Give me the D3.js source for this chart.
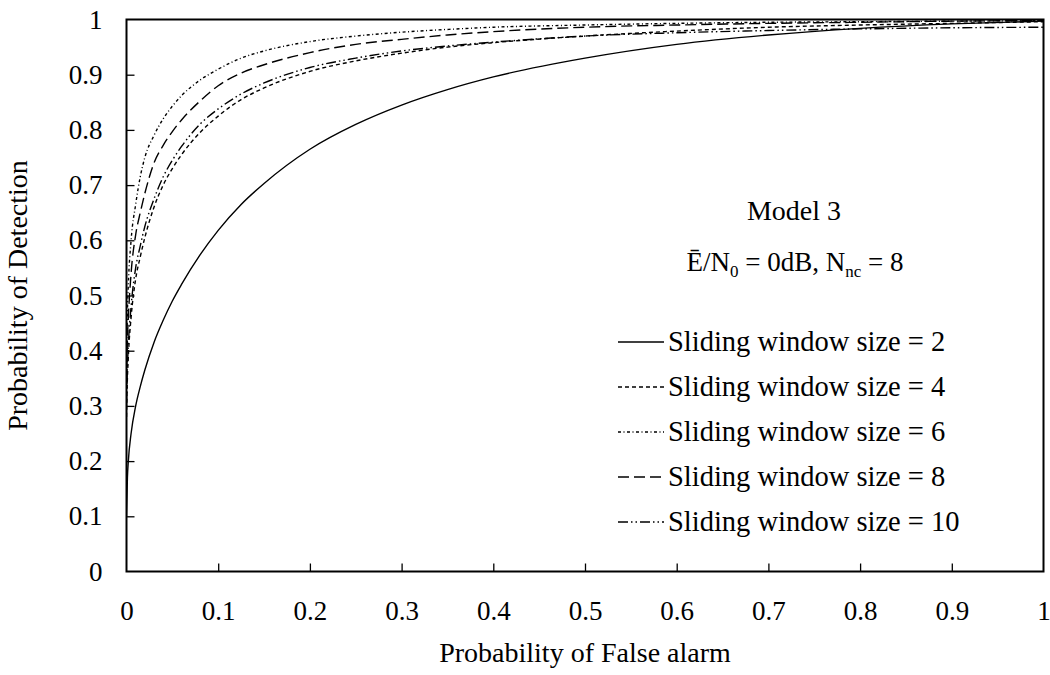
<!DOCTYPE html>
<html>
<head>
<meta charset="utf-8">
<script src="https://cdn.jsdelivr.net/npm/d3@7"></script>
<style>
  html, body { margin: 0; padding: 0; background: #fff; }
  svg text { font-family: "Liberation Serif", "Times New Roman", serif; fill: #000; }
</style>
</head>
<body>
<svg id="chart" width="1050" height="675"></svg>
<script>
// Probability of false alarm sample points (shared by all curves)
const pfa = [0, 0.001, 0.002, 0.005, 0.01, 0.015, 0.02, 0.03, 0.04, 0.05, 0.06, 0.08,
             0.1, 0.125, 0.15, 0.2, 0.25, 0.3, 0.35, 0.4, 0.5, 0.6, 0.7, 0.8, 0.9, 1.0];

// Probability of detection for each sliding window size
const pdWin2  = [0.10, 0.17, 0.20, 0.25, 0.30, 0.335, 0.365, 0.415, 0.455, 0.49, 0.52, 0.573,
                 0.618, 0.665, 0.703, 0.765, 0.810, 0.845, 0.873, 0.896, 0.930, 0.955, 0.972, 0.984, 0.992, 0.997];
const pdWin4  = [0.28, 0.35, 0.39, 0.46, 0.53, 0.57, 0.605, 0.66, 0.70, 0.73, 0.755, 0.795,
                 0.825, 0.855, 0.876, 0.906, 0.925, 0.939, 0.950, 0.958, 0.970, 0.979, 0.986, 0.990, 0.993, 0.996];
const pdWin6  = [0.38, 0.47, 0.52, 0.60, 0.665, 0.715, 0.75, 0.79, 0.82, 0.843, 0.862, 0.89,
                 0.91, 0.93, 0.943, 0.960, 0.970, 0.977, 0.982, 0.986, 0.990, 0.993, 0.995, 0.996, 0.997, 0.998];
const pdWin8  = [0.34, 0.42, 0.46, 0.54, 0.61, 0.65, 0.685, 0.74, 0.772, 0.797, 0.818, 0.852,
                 0.88, 0.903, 0.918, 0.940, 0.955, 0.964, 0.972, 0.978, 0.986, 0.990, 0.993, 0.995, 0.997, 0.998];
const pdWin10 = [0.30, 0.37, 0.41, 0.48, 0.55, 0.59, 0.625, 0.675, 0.715, 0.745, 0.77, 0.81,
                 0.838, 0.865, 0.885, 0.913, 0.930, 0.943, 0.952, 0.959, 0.970, 0.976, 0.980, 0.983, 0.985, 0.986];

const seriesNames = ["Sliding window size = 2", "Sliding window size = 4", "Sliding window size = 6",
                     "Sliding window size = 8", "Sliding window size = 10"];
const tickValues = [0, 0.1, 0.2, 0.3, 0.4, 0.5, 0.6, 0.7, 0.8, 0.9, 1];
const tickLabels = ["0", "0.1", "0.2", "0.3", "0.4", "0.5", "0.6", "0.7", "0.8", "0.9", "1"];

// Dash patterns per series (solid, short dash, dash-dot, long dash, dash-dot-dot)
const dashes = [null, "4,3", "3,2.5,1,2.5", "11,5", "10,3,1.5,3,1.5,3"];

const svg = d3.select("#chart");
const plot = { left: 126.5, right: 1043.5, top: 19.5, bottom: 571.5 };

const x = d3.scaleLinear().domain([0, 1]).range([plot.left, plot.right]);
const y = d3.scaleLinear().domain([0, 1]).range([plot.bottom, plot.top]);

// Curves
const seriesData = [pdWin2, pdWin4, pdWin6, pdWin8, pdWin10];
const line = d3.line()
  .x((d, i) => x(pfa[i]))
  .y(d => y(d))
  .curve(d3.curveMonotoneX);

svg.append("defs").append("clipPath").attr("id", "plotClip")
  .append("rect")
  .attr("x", plot.left).attr("y", plot.top)
  .attr("width", plot.right - plot.left).attr("height", plot.bottom - plot.top);

const curves = svg.append("g").attr("clip-path", "url(#plotClip)");
seriesData.forEach((vals, k) => {
  curves.append("path")
    .datum(vals)
    .attr("d", line)
    .attr("fill", "none")
    .attr("stroke", "#000")
    .attr("stroke-width", 1.4)
    .attr("stroke-dasharray", dashes[k]);
});

// Axes with inward ticks
const xAxis = d3.axisBottom(x).tickValues(tickValues)
  .tickFormat((d, i) => tickLabels[i]).tickSizeInner(-8).tickSizeOuter(0).tickPadding(29);
const yAxis = d3.axisLeft(y).tickValues(tickValues)
  .tickFormat((d, i) => tickLabels[i]).tickSizeInner(-8).tickSizeOuter(0).tickPadding(24);

const gx = svg.append("g").attr("transform", `translate(0,${plot.bottom})`).call(xAxis);
const gy = svg.append("g").attr("transform", `translate(${plot.left},0)`).call(yAxis);
[gx, gy].forEach(g => {
  g.select(".domain").remove();
  g.selectAll(".tick line").attr("stroke", "#000").attr("stroke-width", 1.3);
  g.selectAll(".tick text").attr("font-size", 27)
    .attr("font-family", "Liberation Serif, Times New Roman, serif").attr("fill", "#000");
});
gx.selectAll(".tick").filter(d => d === 0 || d === 1).select("line").remove();
gy.selectAll(".tick").filter(d => d === 0 || d === 1).select("line").remove();

// Frame
svg.append("rect")
  .attr("x", plot.left).attr("y", plot.top)
  .attr("width", plot.right - plot.left).attr("height", plot.bottom - plot.top)
  .attr("fill", "none").attr("stroke", "#000").attr("stroke-width", 2);

// Axis titles
svg.append("text")
  .attr("x", (plot.left + plot.right) / 2).attr("y", 662)
  .attr("text-anchor", "middle").attr("font-size", 28)
  .text("Probability of False alarm");
svg.append("text")
  .attr("transform", `translate(27,${(plot.top + plot.bottom) / 2}) rotate(-90)`)
  .attr("text-anchor", "middle").attr("font-size", 28)
  .text("Probability of Detection");

// Annotation
svg.append("text")
  .attr("x", 794).attr("y", 220)
  .attr("text-anchor", "middle").attr("font-size", 28)
  .text("Model 3");
const ann = svg.append("text")
  .attr("x", 795).attr("y", 271)
  .attr("text-anchor", "middle").attr("font-size", 27);
ann.append("tspan").text("Ē/N");
ann.append("tspan").attr("font-size", 17).attr("dy", 6).text("0");
ann.append("tspan").attr("dy", -6).text(" = 0dB, N");
ann.append("tspan").attr("font-size", 17).attr("dy", 6).text("nc");
ann.append("tspan").attr("dy", -6).text(" = 8");

// Legend
const legend = svg.append("g");
seriesNames.forEach((name, k) => {
  const cy = 342 + k * 45;
  legend.append("line")
    .attr("x1", 618).attr("x2", 664)
    .attr("y1", cy).attr("y2", cy)
    .attr("stroke", "#000").attr("stroke-width", 1.3)
    .attr("stroke-dasharray", dashes[k]);
  legend.append("text")
    .attr("x", 668).attr("y", cy + 9)
    .attr("font-size", 28.5)
    .text(name);
});
</script>
</body>
</html>
